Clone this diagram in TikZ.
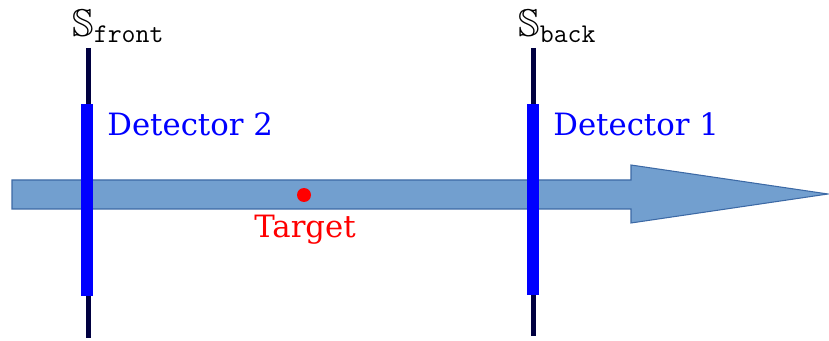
\documentclass[tikz,border=0pt]{standalone}
\usepackage{amsmath}
\usepackage{amssymb}
\usepackage{fontspec}
\setmainfont{DejaVu Serif}
\usepackage{tikz}
\usetikzlibrary{positioning,calc}

\definecolor{beamfill}{RGB}{114,159,207}
\definecolor{beamedge}{RGB}{60,105,165}
\definecolor{wirecol}{RGB}{0,0,64}

\begin{document}
\begin{tikzpicture}[
  x=0.02cm, y=-0.02cm,
  beam/.style={fill=beamfill, draw=beamedge, line width=0.6pt},
  wire/.style={draw=wirecol, line width=2.3pt},
  bar/.style={fill=blue, draw=none},
  det/.style={text=blue, font=\fontsize{17.5}{20}\selectfont, anchor=base west, inner sep=0pt},
  tgt/.style={text=red, font=\fontsize{17.5}{20}\selectfont, anchor=base, inner sep=0pt},
  plane/.style={font=\fontsize{22}{24}\selectfont, anchor=base west, inner sep=0pt}
]
\useasboundingbox (0,0) rectangle (829,341);

% beam
\fill[beam] (12,180) -- (631,180) -- (631,165) -- (828,194) -- (631,223)
  -- (631,209) -- (12,209) -- cycle;

% detector planes
\coordinate (ftop) at (88.5,48);
\coordinate (fbot) at (88.5,338);
\coordinate (btop) at (533.5,48);
\coordinate (bbot) at (533.5,336);
\draw[wire] (ftop) -- (fbot);
\draw[wire] (btop) -- (bbot);
\fill[bar] (81,104) rectangle (93,296);
\fill[bar] (527,104) rectangle (539,295);

\node[plane] (sfront) at (72,37) {$\mathbb{S}_{\texttt{front}}$};
\node[plane] (sback) at (518,37) {$\mathbb{S}_{\texttt{back}}$};

\node[det] (det2) at (107,136) {Detector 2};
\node[det] (det1) at (553,136) {Detector 1};

% target
\fill[red] (304,195) circle (7) coordinate (tgtpt);
\node[tgt] (target) at (305,237) {Target};
\end{tikzpicture}
\end{document}
